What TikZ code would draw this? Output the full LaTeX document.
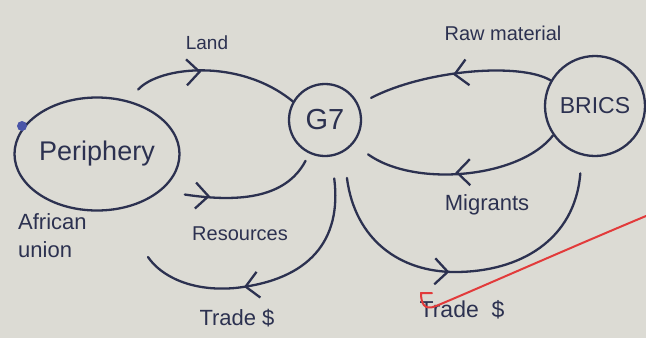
\documentclass[tikz,border=0pt]{standalone}
\usepackage{fontspec}
\setmainfont{Liberation Sans}
\usetikzlibrary{shapes.geometric,arrows.meta,decorations.markings}
\definecolor{ink}{HTML}{2C3150}
\definecolor{paper}{HTML}{DCDBD4}
\definecolor{redpen}{HTML}{E23B3B}
\definecolor{bluedot}{HTML}{4A55A8}
\tikzset{
  pen/.style={draw=ink, line width=2.3pt},
  lbl/.style={text=ink, inner sep=0pt},
  flow/.style={pen, line cap=round, postaction={decorate},
    decoration={markings, mark=at position #1 with {\arrow[ink]{Straight Barb[length=13pt,width=26pt,line width=2.3pt]}}}},
  flow/.default=0.5,
}
\begin{document}
\begin{tikzpicture}[x=1pt,y=-1pt]
\fill[paper] (0,0) rectangle (646,338);
\useasboundingbox (0,0) rectangle (646,338);
% main nodes
\node[pen, ellipse, minimum width=165pt, minimum height=113pt, inner sep=0pt, text=ink, font=\fontsize{27}{30}\selectfont] (per) at (97,154) {Periphery};
\node[pen, circle, minimum size=72pt, inner sep=0pt, text=ink, font=\fontsize{29}{30}\selectfont] (g7) at (325,120) {G7};
\node[pen, circle, minimum size=100pt, inner sep=0pt, text=ink, font=\fontsize{23}{26}\selectfont] (brics) at (595,106) {BRICS};
\node[circle, fill=bluedot, minimum size=10pt, inner sep=0pt] (dot) at (22,126) {};
% labels
\node[lbl, font=\fontsize{19}{20}\selectfont] (landlbl) at (207,43) {Land};
\node[lbl, font=\fontsize{20}{22}\selectfont] (rawlbl) at (503,33) {Raw material};
\node[lbl, font=\fontsize{22}{24}\selectfont] (miglbl) at (487,205) {Migrants};
\node[lbl, font=\fontsize{20}{22}\selectfont] (reslbl) at (240,234) {Resources};
\node[lbl, font=\fontsize{22}{24}\selectfont] (tradeL) at (237,318) {Trade \$};
\node[lbl, font=\fontsize{23}{24}\selectfont] (tradeR) at (462,310) {Trade \ \$};
\node[lbl, align=left, anchor=north west, font=\fontsize{22}{28}\selectfont] (au) at (18,213) {African\\union};
% connectors
\draw[flow=0.45, shorten <=15pt] (per.60) .. controls (160,66) and (240,58) .. (g7.150);
\draw[flow=0.3, shorten <=24pt, shorten >=8pt] (per.-30) .. controls (235,202) and (285,200) .. (g7.245);
\coordinate (tEnd) at (148,257);
\draw[flow=0.63, shorten <=22pt] (g7.280) .. controls (342,240) and (310,280) .. (235,288) .. controls (190,292) and (160,275) .. (tEnd);
\draw[flow=0.5, shorten >=14pt] (brics.150) .. controls (520,62) and (425,70) .. (g7.25);
\draw[flow=0.5, shorten >=18pt] (brics.215) .. controls (520,178) and (415,188) .. (g7.-40);
\draw[flow=0.47, shorten <=26pt, shorten >=18pt] (g7.-60) .. controls (355,240) and (400,272) .. (455,272) .. controls (520,272) and (575,240) .. (brics.-105);
% red annotation stroke
\draw[redpen, line width=2pt, line cap=round, line join=round] (646,216) .. controls (560,252) and (470,292) .. (436,306) .. controls (424,311) and (421,303) .. (421,293) -- (432,293);
\end{tikzpicture}
\end{document}
